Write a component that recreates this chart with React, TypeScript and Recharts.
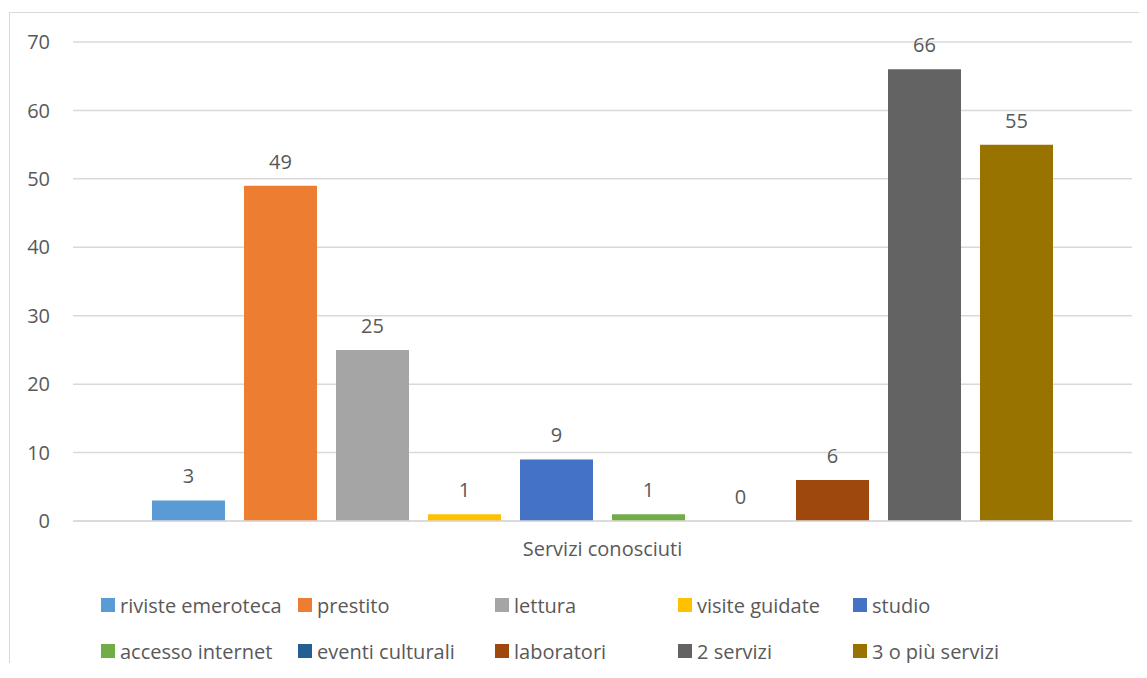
import React from "react";
import {
  BarChart,
  Bar,
  XAxis,
  YAxis,
  CartesianGrid,
  Legend,
  LabelList,
} from "recharts";

// single category, one bar per series (Excel-style clustered column)
const category = "Servizi conosciuti";

const seriesNames = [
  "riviste emeroteca",
  "prestito",
  "lettura",
  "visite guidate",
  "studio",
  "accesso internet",
  "eventi culturali",
  "laboratori",
  "2 servizi",
  "3 o più servizi",
];

const seriesValues = [3, 49, 25, 1, 9, 1, 0, 6, 66, 55];

const seriesColors = [
  "#5B9BD5",
  "#ED7D31",
  "#A5A5A5",
  "#FFC000",
  "#4472C4",
  "#70AD47",
  "#255E91",
  "#9E480E",
  "#636363",
  "#997300",
];

const yTicks = [0, 10, 20, 30, 40, 50, 60, 70];

const textColor = "#595959";
const fontFamily = "'Open Sans', 'Liberation Sans', sans-serif";
const fontSize = 20;

// build the one-row table recharts wants
const row: Record<string, string | number> = { name: category };
seriesNames.forEach((s, i) => {
  row["s" + i] = seriesValues[i];
});
const data = [row];

// legend columns are not evenly spaced in the original
const legendColWidths = [197, 197, 183, 175, 200];

const CustomLegend = () => {
  const rows = [seriesNames.slice(0, 5), seriesNames.slice(5, 10)];
  return (
    <div style={{ paddingTop: 30, paddingLeft: 91, fontFamily }}>
      {rows.map((r, ri) => (
        <div
          key={ri}
          style={{
            display: "flex",
            height: 24,
            alignItems: "center",
            marginBottom: ri === 0 ? 22 : 0,
          }}
        >
          {r.map((name, ci) => {
            const idx = ri * 5 + ci;
            return (
              <div
                key={name}
                style={{
                  width: legendColWidths[ci],
                  display: "flex",
                  alignItems: "center",
                  whiteSpace: "nowrap",
                }}
              >
                <span
                  style={{
                    display: "inline-block",
                    width: 14,
                    height: 14,
                    background: seriesColors[idx],
                    marginRight: 5,
                  }}
                />
                <span style={{ fontSize, color: textColor }}>{name}</span>
              </div>
            );
          })}
        </div>
      ))}
    </div>
  );
};

export default function App() {
  return (
    <div
      style={{
        marginTop: 4,
        marginLeft: 1,
        width: 1137,
        height: 650,
        borderLeft: "1px solid #d9d9d9",
        borderTop: "1px solid #d9d9d9",
        background: "#fff",
      }}
    >
      <BarChart
        width={1137}
        height={650}
        data={data}
        margin={{ top: 29, right: 15, left: 0, bottom: 0 }}
        barSize={73}
        barGap={19}
      >
        <CartesianGrid vertical={false} stroke="#d9d9d9" strokeWidth={1.5} />
        <XAxis
          dataKey="name"
          height={42}
          tickLine={false}
          axisLine={{ stroke: "#d9d9d9", strokeWidth: 1.5 }}
          tickMargin={15}
          tick={{ fill: textColor, fontSize, fontFamily }}
        />
        <YAxis
          width={63}
          domain={[0, 70]}
          ticks={yTicks}
          tickLine={false}
          axisLine={false}
          tickMargin={17}
          tick={{ fill: textColor, fontSize, fontFamily }}
        />
        <Legend
          verticalAlign="bottom"
          align="left"
          height={100}
          content={<CustomLegend />}
        />
        {seriesNames.map((name, i) => (
          <Bar
            key={name}
            dataKey={"s" + i}
            name={name}
            fill={seriesColors[i]}
            minPointSize={0.01}
            isAnimationActive={false}
          >
            <LabelList
              dataKey={"s" + i}
              position="top"
              offset={17}
              fill={textColor}
              fontSize={fontSize}
              fontFamily={fontFamily}
            />
          </Bar>
        ))}
      </BarChart>
    </div>
  );
}
